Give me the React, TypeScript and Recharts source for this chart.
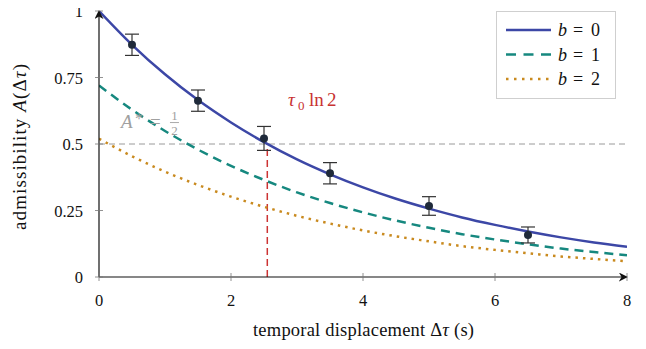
import React from 'react';
import { ComposedChart, Line, Scatter, ErrorBar, XAxis, YAxis, ReferenceLine, ReferenceDot } from 'recharts';

const xs = [0, 0.5, 1, 1.5, 2, 2.5, 3, 3.5, 4, 4.5, 5, 5.5, 6, 6.5, 7, 7.5, 8];
const b0Values = [1, 0.873, 0.762, 0.665, 0.581, 0.507, 0.442, 0.386, 0.337, 0.294, 0.257, 0.224, 0.196, 0.171, 0.149, 0.13, 0.114];
const b1Values = [0.72, 0.629, 0.549, 0.479, 0.418, 0.365, 0.318, 0.278, 0.243, 0.212, 0.185, 0.161, 0.141, 0.123, 0.107, 0.094, 0.082];
const b2Values = [0.52, 0.454, 0.396, 0.346, 0.302, 0.264, 0.23, 0.201, 0.175, 0.153, 0.134, 0.116, 0.102, 0.089, 0.077, 0.068, 0.059];

const obsX = [0.5, 1.5, 2.5, 3.5, 5, 6.5];
const obsY = [0.873, 0.663, 0.521, 0.39, 0.267, 0.158];
const obsErr = [0.04, 0.04, 0.045, 0.04, 0.035, 0.03];

const xTicks = [0, 2, 4, 6, 8];
const yTicks = [0, 0.25, 0.5, 0.75, 1];
const threshold = 0.5;
const tauLn2 = 2.55;
const tauLabelPos = { x: 2.864, y: 0.643 };
const aStarLabelPos = { x: 0.333, y: 0.56 };

const legendItems = [
  { label: '0', color: '#3c47a6', dash: '' },
  { label: '1', color: '#16887f', dash: '10 7.5' },
  { label: '2', color: '#c98a1f', dash: '2.5 5.5' },
];

const curveData = xs.map((x, i) => ({ x, b0: b0Values[i], b1: b1Values[i], b2: b2Values[i] }));
const obsData = obsX.map((x, i) => ({ x, y: obsY[i], err: obsErr[i] }));

const FONT = '"Liberation Serif", "Times New Roman", serif';
const fs = (size: number) => ({ fontFamily: FONT, fontSize: size });

const XTick = (props: any) => {
  const { x, y, payload } = props;
  return (
    <g>
      <line x1={x} x2={x} y1={y - 4} y2={y + 4} stroke="#777" strokeWidth={0.8} />
      <text x={x} y={y + 29} textAnchor="middle" style={fs(16.5)} fill="#111">
        {payload.value}
      </text>
    </g>
  );
};

const YTick = (props: any) => {
  const { x, y, payload } = props;
  return (
    <g>
      <line x1={x - 4} x2={x + 4} y1={y} y2={y} stroke="#777" strokeWidth={0.8} />
      <text x={x - 16} y={y + 6} textAnchor="end" style={fs(16.5)} fill="#111">
        {payload.value}
      </text>
    </g>
  );
};

const TauLabel = (props: any) => {
  const { viewBox } = props;
  const x = viewBox.x;
  const y = viewBox.y;
  const c = '#c83232';
  return (
    <g fill={c}>
      <text x={x} y={y} style={{ ...fs(19), fontStyle: 'italic' }}>τ</text>
      <text x={x + 10} y={y + 4} style={fs(13)}>0</text>
      <text x={x + 21} y={y} style={fs(19)}>ln</text>
      <text x={x + 39} y={y} style={fs(19)}>2</text>
    </g>
  );
};

const AStarLabel = (props: any) => {
  const { viewBox } = props;
  const x = viewBox.x;
  const y = viewBox.y;
  const c = '#a0a0a0';
  return (
    <g fill={c}>
      <text x={x} y={y} style={{ ...fs(19), fontStyle: 'italic' }}>A</text>
      <text x={x + 14} y={y - 4} style={fs(16)}>*</text>
      <text x={x + 29} y={y} style={fs(19)}>=</text>
      <text x={x + 53.5} y={y - 8.5} textAnchor="middle" style={fs(13)}>1</text>
      <line x1={x + 49} x2={x + 58} y1={y - 5.5} y2={y - 5.5} stroke={c} strokeWidth={0.9} />
      <text x={x + 53.5} y={y + 6.5} textAnchor="middle" style={fs(13)}>2</text>
    </g>
  );
};

const YLabel = () => {
  const cx = 26;
  const cy = 147;
  return (
    <text
      x={cx}
      y={cy}
      textAnchor="middle"
      style={fs(19)}
      fill="#111"
      textLength={166}
      lengthAdjust="spacing"
      transform={`rotate(-90, ${cx}, ${cy})`}
    >
      admissibility <tspan fontStyle="italic">A</tspan>(Δ<tspan fontStyle="italic">τ</tspan>)
    </text>
  );
};

const XLabel = () => {
  return (
    <text x={363.5} y={336} textAnchor="middle" style={fs(18.5)} fill="#111" textLength={221} lengthAdjust="spacing">
      temporal displacement Δ<tspan fontStyle="italic">τ</tspan> (s)
    </text>
  );
};

const Dot = (props: any) => {
  const { cx, cy } = props;
  return <circle cx={cx} cy={cy} r={4} fill="#1f2a3a" />;
};

export default function App() {
  return (
    <div style={{ position: 'relative', width: 646, height: 349, margin: -8, background: '#fff' }}>
      <ComposedChart width={646} height={349} margin={{ top: 11, right: 19, left: 0, bottom: 0 }}>
        <defs>
          <marker id="arrowHead" viewBox="0 0 10 10" refX="9" refY="5" markerWidth="9" markerHeight="9" markerUnits="userSpaceOnUse" orient="auto-start-reverse">
            <path d="M0,0 L10,5 L0,10 L3,5 Z" fill="#111" />
          </marker>
        </defs>
        <XAxis
          dataKey="x"
          type="number"
          domain={[0, 8]}
          ticks={xTicks}
          allowDataOverflow
          height={72}
          tickSize={0}
          tickMargin={0}
          tickLine={false}
          tick={<XTick />}
          axisLine={{ stroke: '#111', strokeWidth: 1.2, markerEnd: 'url(#arrowHead)' } as any}
          label={<XLabel />}
        />
        <YAxis
          dataKey="y"
          type="number"
          domain={[0, 1]}
          ticks={yTicks}
          allowDataOverflow
          width={99}
          tickSize={0}
          tickMargin={0}
          tickLine={false}
          tick={<YTick />}
          axisLine={{ stroke: '#111', strokeWidth: 1.2, markerStart: 'url(#arrowHead)' } as any}
          label={<YLabel />}
        />
        <ReferenceLine y={threshold} stroke="#9a9a9a" strokeWidth={1} strokeDasharray="6 4" />
        <ReferenceLine
          segment={[{ x: tauLn2, y: 0 }, { x: tauLn2, y: threshold }]}
          stroke="#cc3333"
          strokeWidth={1.5}
          strokeDasharray="7 4"
        />
        <ReferenceDot x={aStarLabelPos.x} y={aStarLabelPos.y} r={0} fill="none" stroke="none" label={<AStarLabel />} />
        <Line data={curveData} dataKey="b2" type="monotone" stroke="#c98a1f" strokeWidth={2.5} strokeDasharray="2.5 5" dot={false} isAnimationActive={false} />
        <Line data={curveData} dataKey="b1" type="monotone" stroke="#16887f" strokeWidth={2.5} strokeDasharray="9 6" dot={false} isAnimationActive={false} />
        <Line data={curveData} dataKey="b0" type="monotone" stroke="#3c47a6" strokeWidth={2.5} dot={false} isAnimationActive={false} />
        <Scatter data={obsData} dataKey="y" shape={<Dot />} isAnimationActive={false}>
          <ErrorBar dataKey="err" direction="y" width={7} stroke="#333" strokeWidth={1.2} />
        </Scatter>
        <ReferenceDot x={tauLabelPos.x} y={tauLabelPos.y} r={0} fill="none" stroke="none" label={<TauLabel />} />
      </ComposedChart>
      <div
        style={{
          position: 'absolute',
          left: 496,
          top: 11,
          width: 120,
          height: 88,
          border: '1px solid #cfcfcf',
          boxSizing: 'border-box',
          background: '#fff',
        }}
      >
        <svg width={118} height={86} style={{ display: 'block' }}>
          {legendItems.map((it, i) => {
            const ly = 18 + i * 24.5;
            const ty = 24 + i * 24.5;
            return (
              <g key={it.label}>
                <line
                  x1={9}
                  x2={54}
                  y1={ly}
                  y2={ly}
                  stroke={it.color}
                  strokeWidth={2.5}
                  strokeDasharray={it.dash || undefined}
                />
                <text x={61} y={ty} style={{ ...fs(18), fontStyle: 'italic' }} fill="#111">b</text>
                <text x={76} y={ty} style={fs(18)} fill="#111">=</text>
                <text x={94} y={ty} style={fs(18)} fill="#111">{it.label}</text>
              </g>
            );
          })}
        </svg>
      </div>
    </div>
  );
}
